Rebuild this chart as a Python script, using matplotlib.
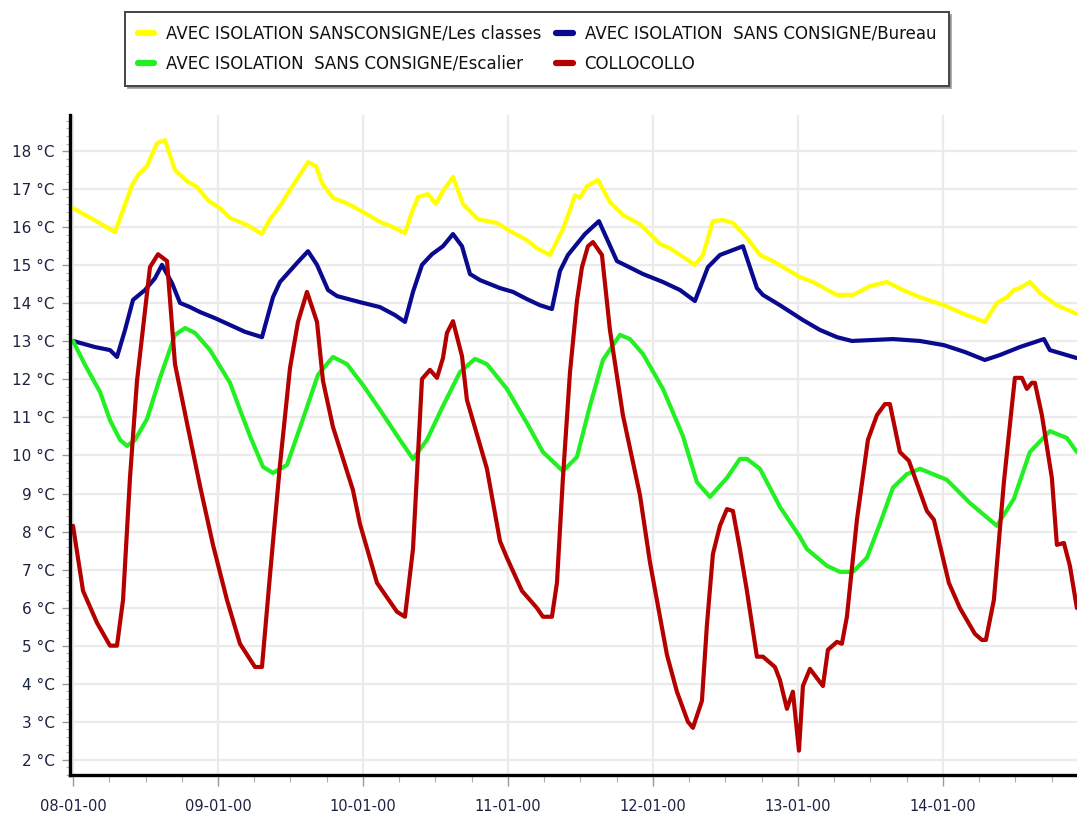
import matplotlib
matplotlib.use("Agg")
import matplotlib.pyplot as plt
import matplotlib.dates as mdates
from matplotlib.ticker import MultipleLocator, FuncFormatter
from datetime import datetime, timedelta

START = datetime(2000, 1, 8)

# Hours since 08-01-00 00:00 and temperatures (°C)
classes_h = [0, 3.31, 6.95, 8.28, 9.77, 10.76, 12.25, 13.90, 15.23, 16.88, 18.87, 20.52,
             22.34, 24.33, 25.99, 28.80, 31.28, 32.61, 34.26, 36.25, 38.90, 40.22, 41.21,
             43.03, 45.35, 48.00, 50.81, 52.97, 54.95, 56.11, 57.10, 58.76, 60.08, 61.24,
             62.90, 64.55, 67.03, 70.18, 72.33, 75.14, 76.80, 78.95, 81.10, 82.26, 83.09,
             83.92, 85.08, 86.90, 88.88, 91.03, 93.85, 97.16, 98.81, 100.97, 102.95, 104.28,
             105.93, 107.59, 109.24, 111.56, 113.71, 115.86, 120.33, 122.48, 126.46, 129.10,
             131.92, 134.73, 137.38, 140.19, 144.17, 147.48, 150.95, 152.94, 154.59, 155.75,
             156.74, 158.40, 160.06, 162.87, 166.18]
classes_t = [16.50, 16.21, 15.87, 16.45, 17.11, 17.37, 17.61, 18.21, 18.29, 17.50, 17.21, 17.06,
             16.71, 16.50, 16.24, 16.06, 15.82, 16.21, 16.56, 17.06, 17.71, 17.61, 17.16,
             16.77, 16.63, 16.40, 16.14, 16.00, 15.85, 16.40, 16.79, 16.87, 16.61, 16.95,
             17.32, 16.61, 16.21, 16.11, 15.90, 15.66, 15.45, 15.27, 15.95, 16.45, 16.84,
             16.77, 17.08, 17.24, 16.66, 16.32, 16.08, 15.56, 15.45, 15.22, 15.01, 15.27,
             16.16, 16.19, 16.11, 15.72, 15.27, 15.11, 14.69, 14.56, 14.22, 14.22,
             14.45, 14.56, 14.35, 14.16, 13.95, 13.72, 13.51, 14.01, 14.16, 14.35,
             14.40, 14.56, 14.27, 13.95, 13.72]

bureau_h = [0, 3.64, 6.12, 7.28, 8.61, 9.93, 11.92, 13.57, 14.73, 16.39, 17.71, 19.37,
            21.02, 23.50, 25.99, 28.47, 31.28, 33.10, 34.26, 37.08, 38.90, 40.39, 42.21,
            43.70, 47.50, 50.81, 53.30, 54.95, 56.28, 57.77, 59.42, 61.24, 62.90, 64.39,
            65.71, 67.37, 70.68, 72.83, 75.14, 77.30, 79.28, 80.61, 81.93, 83.92, 84.74,
            87.06, 90.04, 91.70, 94.34, 97.66, 100.47, 102.95, 105.10, 107.09, 110.90,
            113.21, 114.21, 117.02, 120.83, 123.64, 126.46, 128.94, 135.72, 140.19, 144.17,
            147.64, 150.95, 153.43, 156.74, 160.72, 161.71, 166.18]
bureau_t = [13.01, 12.85, 12.77, 12.59, 13.30, 14.09, 14.35, 14.66, 15.01, 14.53, 14.01, 13.90,
            13.77, 13.61, 13.43, 13.25, 13.11, 14.16, 14.56, 15.06, 15.37, 15.01, 14.35,
            14.19, 14.03, 13.90, 13.69, 13.51, 14.30, 15.01, 15.29, 15.50, 15.82, 15.50,
            14.77, 14.61, 14.40, 14.30, 14.11, 13.95, 13.85, 14.85, 15.27, 15.66, 15.82,
            16.16, 15.11, 14.98, 14.77, 14.56, 14.35, 14.06, 14.95, 15.27, 15.50,
            14.40, 14.22, 13.95, 13.56, 13.30, 13.11, 13.01, 13.06, 13.01, 12.90,
            12.72, 12.51, 12.64, 12.85, 13.06, 12.77, 12.56]

escalier_h = [0, 1.99, 4.47, 6.12, 7.78, 8.94, 10.26, 12.25, 14.40, 16.88, 18.54, 20.19,
              22.68, 25.99, 27.64, 29.30, 31.45, 33.10, 35.42, 38.07, 40.55, 43.03, 45.35,
              48.00, 50.81, 54.12, 56.28, 58.59, 61.24, 64.05, 66.54, 68.52, 71.83, 75.14,
              77.79, 81.10, 83.42, 85.57, 87.72, 90.54, 92.19, 94.34, 97.66, 100.97, 103.28,
              105.43, 108.25, 110.40, 111.56, 113.71, 117.02, 120.33, 121.49, 124.80, 126.95,
              129.10, 131.42, 133.57, 135.72, 138.04, 140.19, 144.66, 148.47, 152.94, 155.75,
              158.40, 161.71, 164.52, 166.18]
escalier_t = [13.01, 12.38, 11.67, 10.93, 10.41, 10.25, 10.41, 10.96, 12.04, 13.17, 13.35, 13.22,
              12.77, 11.91, 11.20, 10.51, 9.70, 9.54, 9.75, 10.96, 12.12, 12.59, 12.40,
              11.85, 11.20, 10.41, 9.91, 10.41, 11.30, 12.19, 12.54, 12.40, 11.75, 10.85,
              10.09, 9.59, 9.96, 11.30, 12.51, 13.17, 13.06, 12.67, 11.75, 10.51, 9.30,
              8.91, 9.41, 9.91, 9.91, 9.65, 8.65, 7.86, 7.54, 7.10, 6.94,
              6.94, 7.31, 8.20, 9.15, 9.51, 9.65, 9.36, 8.75, 8.15, 8.86,
              10.09, 10.64, 10.46, 10.09]

collo_h = [0, 1.66, 3.97, 6.12, 7.28, 8.28, 9.43, 10.59, 12.74, 14.07, 15.56, 16.88,
           18.87, 21.02, 23.17, 25.49, 27.64, 30.12, 31.28, 32.61, 34.26, 35.92, 37.24,
           38.73, 40.39, 41.38, 43.03, 46.34, 47.50, 50.32, 53.63, 54.95, 56.28, 57.77,
           59.09, 60.25, 61.24, 61.90, 62.90, 64.39, 65.21, 68.52, 70.68, 71.83, 74.32,
           76.80, 77.79, 79.28, 80.11, 81.10, 82.26, 83.42, 84.25, 85.24, 86.07, 87.56,
           88.88, 91.03, 93.85, 95.50, 98.32, 99.97, 101.79, 102.62, 104.11, 104.94,
           105.93, 107.09, 108.25, 109.24, 110.40, 111.56, 113.21, 114.21, 116.19, 117.02,
           118.18, 119.17, 120.17, 120.83, 121.99, 124.14, 124.97, 126.46, 127.28, 128.11,
           129.77, 131.59, 133.08, 134.40, 135.23, 136.88, 138.37, 141.35, 142.51, 144.99,
           146.81, 149.30, 150.46, 151.12, 152.44, 154.10, 155.42, 155.92, 157.08, 157.90,
           158.73, 159.23, 160.39, 162.04, 162.87, 164.03, 165.02, 166.18]
collo_t = [8.15, 6.44, 5.60, 5.00, 5.00, 6.20, 9.41, 11.96, 14.95, 15.29, 15.11, 12.40,
           10.85, 9.20, 7.65, 6.20, 5.05, 4.44, 4.44, 6.86, 9.75, 12.30, 13.51,
           14.30, 13.51, 11.96, 10.75, 9.09, 8.20, 6.65, 5.89, 5.76, 7.54, 12.01,
           12.25, 12.04, 12.56, 13.22, 13.53, 12.61, 11.46, 9.65, 7.75, 7.31, 6.44,
           5.99, 5.76, 5.76, 6.65, 9.41, 12.17, 14.06, 14.95, 15.50, 15.61, 15.27,
           13.30, 11.06, 8.96, 7.20, 4.76, 3.79, 3.00, 2.84, 3.55, 5.55,
           7.41, 8.15, 8.59, 8.54, 7.54, 6.44, 4.71, 4.71, 4.44, 4.10,
           3.34, 3.79, 2.24, 3.94, 4.39, 3.94, 4.89, 5.10, 5.05, 5.76,
           8.31, 10.41, 11.06, 11.35, 11.35, 10.09, 9.86, 8.54, 8.31, 6.65,
           5.99, 5.31, 5.15, 5.15, 6.20, 9.30, 11.30, 12.04, 12.04, 11.75,
           11.91, 11.91, 11.06, 9.41, 7.65, 7.70, 7.10, 5.99]

labels = [
    "AVEC ISOLATION SANSCONSIGNE/Les classes",
    "AVEC ISOLATION  SANS CONSIGNE/Bureau",
    "AVEC ISOLATION  SANS CONSIGNE/Escalier",
    "COLLOCOLLO",
]
colors = ["#ffff00", "#0a0a8f", "#22f022", "#b50000"]


def to_dates(hours):
    return [START + timedelta(hours=h) for h in hours]


fig = plt.figure(figsize=(10.77, 8.18), dpi=100)
ax = fig.add_axes([70 / 1077, 1 - 775 / 818, 1 - 70 / 1077, (775 - 115) / 818])

series = [(classes_h, classes_t), (bureau_h, bureau_t),
          (escalier_h, escalier_t), (collo_h, collo_t)]
lines = []
for (h, t), lab, col in zip(series, labels, colors):
    ln, = ax.plot(to_dates(h), t, color=col, lw=3.0, label=lab,
                  solid_joinstyle="round", solid_capstyle="round")
    lines.append(ln)

ax.set_xlim(START - timedelta(hours=0.5), START + timedelta(hours=166.2))
ax.set_ylim(1.6, 18.95)

ax.set_axisbelow(True)
ax.grid(True, which="major", color="#ebebeb", lw=1.6)

ax.yaxis.set_major_locator(MultipleLocator(1))
ax.yaxis.set_minor_locator(MultipleLocator(0.2))
ax.yaxis.set_major_formatter(FuncFormatter(lambda v, p: f"{int(round(v))} °C"))
ax.xaxis.set_major_locator(mdates.DayLocator())
ax.xaxis.set_minor_locator(mdates.HourLocator(byhour=[6, 12, 18]))
ax.xaxis.set_major_formatter(mdates.DateFormatter("%d-%m-%y"))

for side in ("top", "right"):
    ax.spines[side].set_visible(False)
for side in ("left", "bottom"):
    ax.spines[side].set_color("black")
    ax.spines[side].set_linewidth(2.4)

ax.tick_params(axis="y", which="major", length=6, width=1, color="#9a9a9a",
               labelsize=11, labelcolor="#1c2340", pad=5)
ax.tick_params(axis="y", which="minor", length=3, width=0.8, color="#b0b0b0")
ax.tick_params(axis="x", which="major", length=8, width=1, color="#9a9a9a",
               labelsize=10.5, labelcolor="#1c2340", pad=9)
ax.tick_params(axis="x", which="minor", length=5, width=0.8, color="#b0b0b0")

order = [0, 2, 1, 3]
leg = fig.legend([lines[i] for i in order], [labels[i] for i in order],
                 loc="upper left", bbox_to_anchor=(125 / 1077, 1 - 12 / 818),
                 bbox_transform=fig.transFigure, borderaxespad=0, ncol=2,
                 fontsize=12, handlelength=1.0, handletextpad=0.7,
                 columnspacing=0.9, labelspacing=0.75, borderpad=0.75,
                 fancybox=False, shadow={"color": "#8a8a8a", "alpha": 0.7},
                 edgecolor="#444444", framealpha=1)
leg.get_frame().set_linewidth(1.4)
for lh in leg.get_lines():
    lh.set_linewidth(4.5)
for txt in leg.get_texts():
    txt.set_color("#111111")

fig.savefig("out.png", dpi=100, facecolor="white")
